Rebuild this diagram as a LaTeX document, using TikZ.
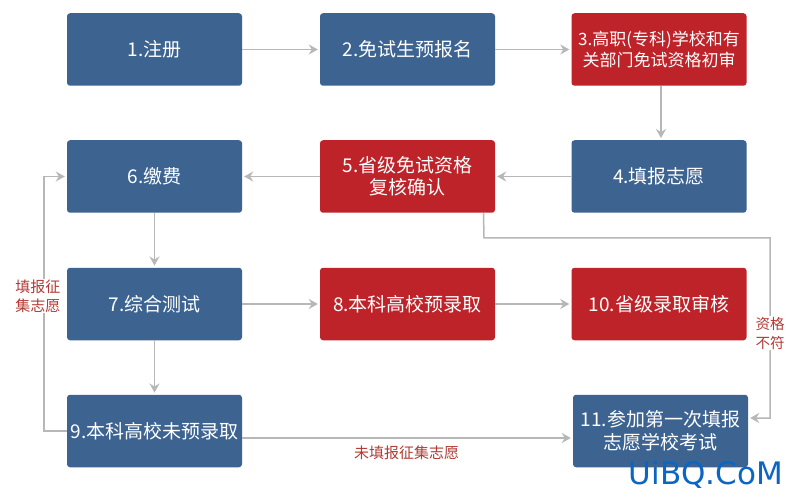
\documentclass[tikz,border=0pt]{standalone}
\usepackage{fontspec}
\setmainfont{Noto Sans CJK SC}
\newfontfamily\wmfont{DejaVu Sans}
\usetikzlibrary{arrows.meta}
\definecolor{boxblue}{HTML}{3D6391}
\definecolor{boxred}{HTML}{BD2329}
\definecolor{linegray}{HTML}{B7B7B7}
\definecolor{labelred}{HTML}{B23A34}
\definecolor{wmblue}{HTML}{0B66C3}
\tikzset{
  x=1pt,y=-1pt,
  flowbox/.style={minimum width=175pt,minimum height=72.5pt,rounded corners=3pt,inner sep=0pt,
    text=white,align=center,font=\fontsize{19}{22.5}\selectfont},
  bluebox/.style={flowbox,fill=boxblue},
  redbox/.style={flowbox,fill=boxred},
  flow/.style={draw=linegray,line width=1.5pt,-{Stealth[length=9pt,width=10pt,inset=3pt]},shorten >=2pt},
  flowlabel/.style={text=labelred,fill=white,inner sep=1pt,align=center,font=\fontsize{15}{18.5}\selectfont}
}
\begin{document}
\begin{tikzpicture}
\useasboundingbox (0,0) rectangle (796,500);
\fill[white] (0,0) rectangle (796,500);
\node[bluebox] (n1) at (154.5,49.5) {1.注册};
\node[bluebox] (n2) at (407.5,49.5) {2.免试生预报名};
\node[redbox,font=\fontsize{17}{21.5}\selectfont] (n3) at (659,49.5) {3.高职(专科)学校和有\\关部门免试资格初审};
\node[bluebox] (n4) at (659,176.5) {4.填报志愿};
\node[redbox] (n5) at (407.5,176.5) {5.省级免试资格\\复核确认};
\node[bluebox] (n6) at (154.5,176.5) {6.缴费};
\node[bluebox] (n7) at (154.5,304) {7.综合测试};
\node[redbox] (n8) at (407.5,304) {8.本科高校预录取};
\node[redbox] (n10) at (659,304) {10.省级录取审核};
\node[bluebox] (n9) at (154.5,431) {9.本科高校未预录取};
\node[bluebox] (n11) at (660.5,431) {11.参加第一次填报\\志愿学校考试};

\coordinate (c5) at ([xshift=76pt]n5.south);
\coordinate (c5a) at (484,238);
\coordinate (c5b) at (770,238);
\coordinate (c5c) at (770,418);
\coordinate (c11) at (n11.east |- c5c);
\coordinate (c9a) at (44,431);
\coordinate (c6a) at (44,176.5);

\draw[flow] (n1) -- (n2);
\draw[flow] (n2) -- (n3);
\draw[flow] ([xshift=2pt]n3.south) -- ([xshift=2pt]n4.north);
\draw[flow] (n4) -- (n5);
\draw[flow] (n5) -- (n6);
\draw[flow] (n6) -- (n7);
\draw[flow] (n7) -- (n8);
\draw[flow] (n8) -- (n10);
\draw[flow] (n7) -- (n9);
\draw[flow] ([yshift=-7pt]n9.east) -- node[flowlabel,pos=0.497,yshift=-15pt,fill=none] {未填报征集志愿} ([yshift=-7pt]n11.west);
\draw[flow] (n9.west) -- (c9a) -- node[flowlabel,pos=0.53,xshift=-6pt] {填报征\\集志愿} (c6a) -- (n6.west);
\draw[flow] (c5) -- (c5a) -- (c5b) -- node[flowlabel,pos=0.53,font=\fontsize{14.5}{18.5}\selectfont] {资格\\不符} (c5c) -- (c11);

\node[text=wmblue,inner sep=0pt,font=\wmfont\fontsize{31}{31}\selectfont] (wm) at (706,475) {UiBQ.CoM};
\end{tikzpicture}
\end{document}
